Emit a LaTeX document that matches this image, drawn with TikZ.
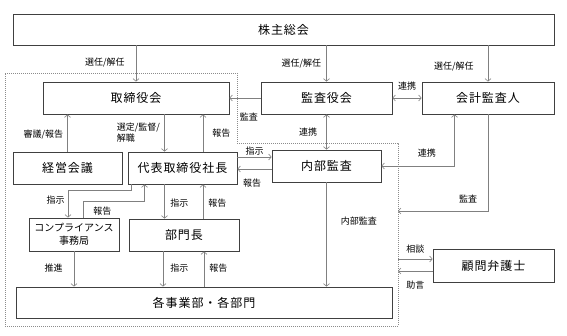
\documentclass[tikz,border=0pt]{standalone}
\usepackage{fontspec}
\setmainfont{Noto Sans CJK JP}
\newfontfamily\boxfont[LetterSpace=8]{Noto Sans CJK JP}
\usetikzlibrary{arrows.meta, positioning, calc}

\tikzset{
  box/.style={draw=black!75, line width=0.9pt, minimum height=32pt, inner sep=0pt,
    font=\boxfont\fontsize{12}{14}\selectfont},
  link/.style={draw=black!50, line width=0.6pt, -{Straight Barb[length=2.5pt,width=6pt]}},
  twoway/.style={link, {Straight Barb[length=2.5pt,width=6pt]}-{Straight Barb[length=2.5pt,width=6pt]}},
  lbl/.style={font=\fontsize{9}{11}\selectfont, inner sep=1pt, text=black},
  frame/.style={draw=black!45, line width=0.5pt, dash pattern=on 1pt off 1pt}
}

\begin{document}
\begin{tikzpicture}[x=1pt, y=-1pt]
\useasboundingbox (0,0) rectangle (567,336);

% boxes
\node[box, minimum width=541pt, minimum height=31pt] (soukai) at (283.5,29.5) {株主総会};
\node[box, minimum width=186pt] (torikai) at (136,98) {取締役会};
\node[box, minimum width=131pt] (kansakai) at (326.5,98) {監査役会};
\node[box, minimum width=132pt] (kaikei) at (488,98) {会計監査人};
\node[box, minimum width=109pt] (keiei) at (67.5,168) {経営会議};
\node[box, minimum width=109pt] (shacho) at (182.5,168) {代表取締役社長};
\node[box, minimum width=109pt] (naibu) at (326.5,166) {内部監査};
\node[box, minimum width=90pt, minimum height=33pt, align=center,
      font=\fontsize{10}{13}\selectfont] (comp) at (74,234.5) {コンプライアンス\\事務局};
\node[box, minimum width=110pt] (bumon) at (184,235) {部門長};
\node[box, minimum width=376pt, minimum height=31pt] (jigyo) at (204,302.5) {各事業部・各部門};
\node[box, minimum width=121pt, minimum height=33pt] (bengo) at (493.5,265.5) {顧問弁護士};

% dotted frame
\draw[frame] (5,73) -- (237,73) -- (237,143) -- (398,143) -- (398,326) -- (5,326) -- cycle;
\coordinate (fr) at (398,0);
\coordinate (auditin) at (398,211);

\coordinate (tsA) at ([xshift=-18pt]shacho.north);
\coordinate (tsB) at ([xshift=20.5pt]shacho.north);
\coordinate (sbA) at ([xshift=-18pt]shacho.south);
\coordinate (sbB) at ([xshift=20.5pt]shacho.south);
\coordinate (bjA) at ([xshift=-21pt]bumon.south);
\coordinate (bjB) at ([xshift=20pt]bumon.south);
\coordinate (snA) at ([yshift=9pt]naibu.west);
\coordinate (snB) at ([yshift=-3pt]naibu.west);
\coordinate (lwA) at ([yshift=6.5pt]bengo.west);
\coordinate (lwB) at ([yshift=-5.5pt]bengo.west);

% shareholders
\draw[link] (soukai.south -| torikai) -- node[lbl, pos=.46, left=10pt]{選任/解任} (torikai.north);
\draw[link] (soukai.south -| kansakai) -- node[lbl, pos=.51, left=4pt]{選任/解任} (kansakai.north);
\draw[link] (soukai.south -| kaikei) -- node[lbl, pos=.59, left=13pt]{選任/解任} (kaikei.north);

% auditors
\draw[link] (kansakai.west) -- node[lbl, pos=.375, below=13.5pt]{監査} (kansakai.west -| torikai.east);
\draw[twoway] (kansakai.east) -- node[lbl, above=6.5pt]{連携} (kaikei.west);
\draw[twoway] (kansakai.south) -- node[lbl, pos=.5, left=8pt]{連携} (naibu.north);
\draw[twoway] (naibu.east) -| node[lbl, pos=.31, above=7.5pt]{連携} ([xshift=33pt]kaikei.south west);
\draw[link] (kaikei.south) |- node[lbl, pos=.61, above=6.5pt]{監査} (auditin);

% board and president
\draw[link] (keiei.north) -- node[lbl, pos=.45, left=3pt]{審議/報告} (keiei.north |- torikai.south);
\draw[link] (tsA |- torikai.south) -- node[lbl, pos=.49, anchor=west, xshift=-49pt, align=left]{選定/監督/\\解職} (tsA);
\draw[link] (tsB) -- node[lbl, pos=.5, right=8pt]{報告} (tsB |- torikai.south);
\draw[link] (snA -| shacho.east) -- node[lbl, above=0pt]{指示} (snA);
\draw[link] (snB) -- node[lbl, pos=.57, below=8.5pt]{報告} (snB -| shacho.east);

% compliance
\draw[link] ([xshift=4pt]shacho.south west) -- ++(0,6) -| node[lbl, pos=.68, left=2pt]{指示} ([xshift=-6pt]comp.north);
\draw[link] ([xshift=9pt]comp.north) -- node[lbl, pos=.375, right=9pt]{報告} ++(0,-16) -| ([xshift=17pt]shacho.south west);
\draw[link] (comp.south) -- node[lbl, pos=.47, left=10pt]{推進} (comp.south |- jigyo.north);

% departments
\draw[link] (sbA) -- node[lbl, pos=.54, right=4.5pt]{指示} (sbA |- bumon.north);
\draw[link] (sbB |- bumon.north) -- node[lbl, pos=.46, right=4pt]{報告} (sbB);
\draw[link] (bjA) -- node[lbl, pos=.47, right=6pt]{指示} (bjA |- jigyo.north);
\draw[link] (bjB |- jigyo.north) -- node[lbl, pos=.53, right=4pt]{報告} (bjB);
\draw[link] (naibu.south) -- node[lbl, pos=.37, right=13pt]{内部監査} (naibu.south |- jigyo.north);

% lawyer
\draw[link] (lwA -| fr) -- node[lbl, above=4.5pt]{相談} (lwA);
\draw[link] (lwB) -- node[lbl, below=8.5pt]{助言} (lwB -| fr);
\end{tikzpicture}
\end{document}
